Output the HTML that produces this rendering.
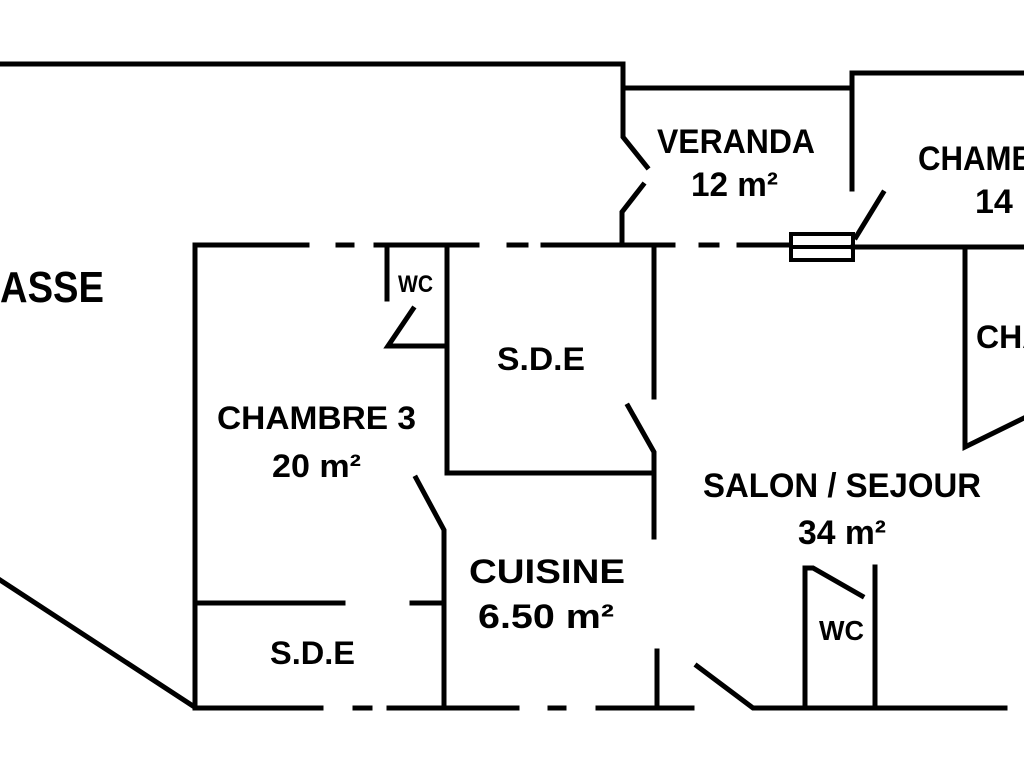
<!DOCTYPE html>
<html><head><meta charset="utf-8"><style>
html,body{margin:0;padding:0;background:#fff;width:1024px;height:768px;overflow:hidden}
svg{display:block}
text{font-family:"Liberation Sans",Arial,sans-serif;font-weight:bold;fill:#000}
</style></head><body>
<svg width="1024" height="768" viewBox="0 0 1024 768" xmlns="http://www.w3.org/2000/svg">
<g stroke="#000" stroke-width="5" fill="none" stroke-linecap="square" stroke-linejoin="miter">
<!-- outer top -->
<polyline points="0,64 623,64 623,137 647,167"/>
<polyline points="643,185 622,212 622,245"/>
<polyline points="623,88 852,88"/>
<polyline points="852,189 852,73 1024,73"/>
<line x1="883" y1="193" x2="856" y2="237"/>
<rect x="791" y="234" width="62" height="26" stroke-width="4"/>
<line x1="791" y1="247" x2="853" y2="247" stroke-width="4"/>
<!-- main top line -->
<line x1="195" y1="245" x2="307" y2="245"/>
<line x1="338" y1="245" x2="352" y2="245"/>
<line x1="376" y1="245" x2="477" y2="245"/>
<line x1="509" y1="245" x2="526" y2="245"/>
<line x1="543" y1="245" x2="673" y2="245"/>
<line x1="701" y1="245" x2="717" y2="245"/>
<line x1="739" y1="245" x2="790" y2="245"/>
<line x1="853" y1="247" x2="1024" y2="247"/>
<!-- left -->
<line x1="195" y1="245" x2="195" y2="708"/>
<line x1="0" y1="580" x2="193" y2="706"/>
<!-- WC top -->
<line x1="387" y1="245" x2="387" y2="299"/>
<polyline points="413,309 388,346 444,346"/>
<line x1="447" y1="245" x2="447" y2="473"/>
<line x1="447" y1="473" x2="653" y2="473"/>
<line x1="654" y1="245" x2="654" y2="397"/>
<polyline points="628,406 654,452 654,537"/>
<!-- cuisine wall -->
<polyline points="416,478 444,530 444,708"/>
<line x1="195" y1="603" x2="343" y2="603"/>
<line x1="412" y1="603" x2="444" y2="603"/>
<!-- bottom -->
<line x1="195" y1="708" x2="321" y2="708"/>
<line x1="355" y1="708" x2="370" y2="708"/>
<line x1="389" y1="708" x2="517" y2="708"/>
<line x1="550" y1="708" x2="564" y2="708"/>
<line x1="598" y1="708" x2="692" y2="708"/>
<line x1="657" y1="651" x2="657" y2="708"/>
<polyline points="697,666 753,708 1005,708"/>
<!-- WC bottom -->
<line x1="805" y1="568" x2="805" y2="708"/>
<polyline points="805,568 813,568 862,596"/>
<line x1="875" y1="567" x2="875" y2="708"/>
<!-- right -->
<polyline points="965,249 965,447 1024,418"/>
</g>
<text x="0" y="302" font-size="44" textLength="104" lengthAdjust="spacingAndGlyphs">ASSE</text>
<text x="657" y="153" font-size="34" textLength="158" lengthAdjust="spacingAndGlyphs">VERANDA</text>
<text x="691" y="196" font-size="34" textLength="87" lengthAdjust="spacingAndGlyphs">12 m²</text>
<text x="918" y="170" font-size="34" textLength="116" lengthAdjust="spacingAndGlyphs">CHAMB</text>
<text x="975" y="213" font-size="34">14</text>
<text x="398" y="292" font-size="24" textLength="35" lengthAdjust="spacingAndGlyphs">WC</text>
<text x="497" y="370" font-size="32" textLength="88" lengthAdjust="spacingAndGlyphs">S.D.E</text>
<text x="976" y="348" font-size="32">CHA</text>
<text x="217" y="429" font-size="32" textLength="199" lengthAdjust="spacingAndGlyphs">CHAMBRE 3</text>
<text x="272" y="477" font-size="32" textLength="89" lengthAdjust="spacingAndGlyphs">20 m²</text>
<text x="703" y="497" font-size="34" textLength="278" lengthAdjust="spacingAndGlyphs">SALON / SEJOUR</text>
<text x="798" y="544" font-size="34" textLength="88" lengthAdjust="spacingAndGlyphs">34 m²</text>
<text x="469" y="583" font-size="34" textLength="156" lengthAdjust="spacingAndGlyphs">CUISINE</text>
<text x="478" y="628" font-size="34" textLength="136" lengthAdjust="spacingAndGlyphs">6.50 m²</text>
<text x="270" y="664" font-size="32" textLength="85" lengthAdjust="spacingAndGlyphs">S.D.E</text>
<text x="819" y="640" font-size="28" textLength="45" lengthAdjust="spacingAndGlyphs">WC</text>
</svg>
</body></html>
